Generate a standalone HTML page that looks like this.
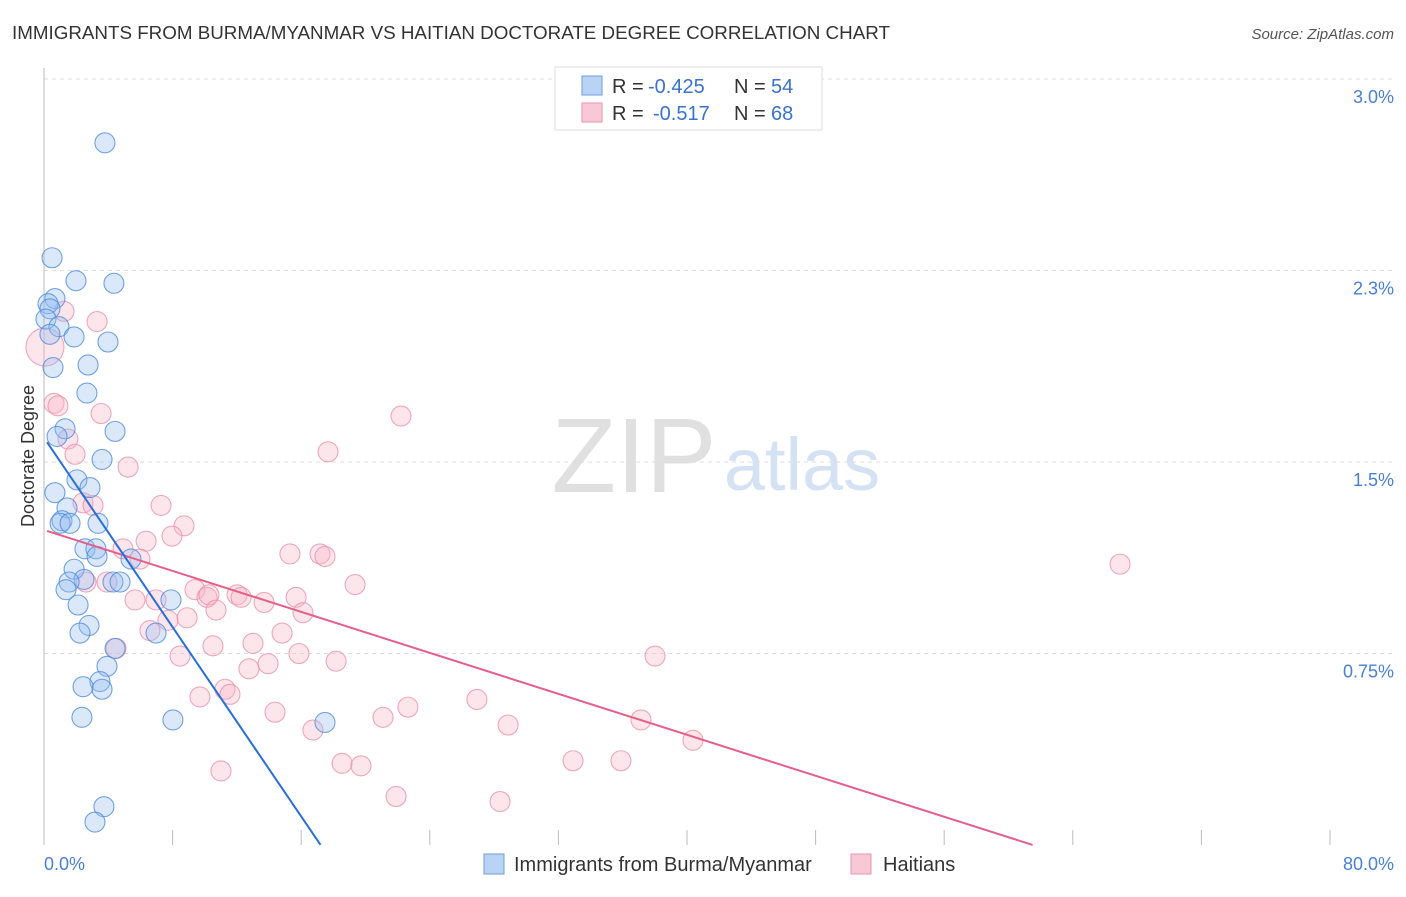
<!DOCTYPE html>
<html><head><meta charset="utf-8"><style>
body{margin:0;background:#fff;font-family:"Liberation Sans",sans-serif}
svg text{font-family:"Liberation Sans",sans-serif}
</style></head><body>
<svg width="1406" height="892" xmlns="http://www.w3.org/2000/svg">
<text x="12" y="39" font-size="18.8" fill="#333">IMMIGRANTS FROM BURMA/MYANMAR VS HAITIAN DOCTORATE DEGREE CORRELATION CHART</text>
<text x="1394" y="39" font-size="15" fill="#555" font-style="italic" text-anchor="end">Source: ZipAtlas.com</text>
<text x="634" y="492" font-size="106" fill="#e0e0e0" font-family="Liberation Serif" text-anchor="middle">ZIP</text>
<text x="802" y="490" font-size="74" fill="#d4e2f4" text-anchor="middle">atlas</text>
<g id="grid"></g>
<g id="axes"></g>
<g id="pts"></g>
<g id="lines"></g>
<text transform="translate(34,456) rotate(-90)" font-size="18" fill="#333" text-anchor="middle">Doctorate Degree</text>
<text x="44" y="870" font-size="18" fill="#4a7fd4">0.0%</text>
<text x="1394" y="870" font-size="18" fill="#4a7fd4" text-anchor="end">80.0%</text>
<g>
<rect x="555" y="67" width="267" height="63" fill="#fff" stroke="#ddd"/>
<rect x="582" y="76" width="20" height="19" fill="#b8d3f4" stroke="#6d9fdf"/>
<text x="612" y="93" font-size="20" fill="#333">R =</text>
<text x="648" y="93" font-size="20" fill="#3a72cc">-0.425</text>
<text x="734" y="93" font-size="20" fill="#333">N =</text>
<text x="771" y="93" font-size="20" fill="#3a72cc">54</text>
<rect x="582" y="103" width="20" height="19" fill="#f9c8d6" stroke="#e893ad"/>
<text x="612" y="120" font-size="20" fill="#333">R =</text>
<text x="653" y="120" font-size="20" fill="#3a72cc">-0.517</text>
<text x="734" y="120" font-size="20" fill="#333">N =</text>
<text x="771" y="120" font-size="20" fill="#3a72cc">68</text>
</g>
<g>
<rect x="484" y="854" width="20" height="20" fill="#b8d3f4" stroke="#6d9fdf"/>
<text x="514" y="871" font-size="20" fill="#333">Immigrants from Burma/Myanmar</text>
<rect x="851" y="854" width="20" height="20" fill="#f9c8d6" stroke="#e893ad"/>
<text x="883" y="871" font-size="20" fill="#333">Haitians</text>
</g>
</svg>
<script>
const yTicks=[0.75,1.5,2.25,3.0];
const yTickLabels=["0.75%","1.5%","2.3%","3.0%"];
const xTicks=[0,8,16,24,32,40,48,56,64,72,80];
const blueX=[3.79,0.50,1.99,4.35,0.68,0.25,0.37,0.12,0.93,1.87,3.98,0.37,0.56,2.74,2.67,1.31,4.42,0.81,3.61,2.05,2.86,0.68,1.43,1.12,1.00,1.62,3.36,2.55,3.23,3.30,5.41,1.87,2.49,1.56,1.37,4.29,4.73,7.90,2.12,2.80,2.24,6.97,4.42,3.92,3.48,2.43,3.61,2.36,8.02,17.48,3.73,3.17];
const blueY=[2.75,2.30,2.21,2.20,2.14,2.12,2.10,2.06,2.03,1.99,1.97,2.00,1.87,1.88,1.77,1.63,1.62,1.60,1.51,1.43,1.40,1.38,1.32,1.27,1.26,1.26,1.26,1.16,1.16,1.13,1.12,1.08,1.04,1.03,1.00,1.03,1.03,0.96,0.94,0.86,0.83,0.83,0.77,0.70,0.64,0.62,0.61,0.50,0.49,0.48,0.15,0.09];
const pinkX=[0.06,0.62,0.87,1.24,3.30,3.55,1.49,1.93,5.23,22.21,17.67,2.43,3.05,7.28,8.71,2.61,4.91,6.35,5.97,7.96,3.92,15.30,17.17,17.48,19.35,5.66,6.97,9.39,10.14,10.26,12.01,12.26,13.69,15.68,16.11,10.70,8.90,7.71,6.59,8.46,13.00,14.81,15.86,18.17,13.94,12.75,4.48,10.51,11.26,9.70,11.57,14.37,16.73,21.09,22.64,26.93,28.87,37.14,40.37,38.01,66.94,11.01,18.54,19.72,21.90,28.37,32.91,35.89];
const pinkY=[1.95,1.73,1.72,2.09,2.05,1.69,1.59,1.53,1.48,1.68,1.54,1.34,1.33,1.33,1.25,1.03,1.16,1.19,1.12,1.21,1.03,1.14,1.14,1.13,1.02,0.96,0.96,1.00,0.97,0.98,0.98,0.97,0.95,0.97,0.91,0.92,0.89,0.88,0.84,0.74,0.79,0.83,0.75,0.72,0.71,0.69,0.77,0.78,0.61,0.58,0.59,0.52,0.45,0.50,0.54,0.57,0.47,0.49,0.41,0.74,1.10,0.29,0.32,0.31,0.19,0.17,0.33,0.33];
const blueTrend=[1.595,-0.0927,0.19,17.2];
const pinkTrend=[1.234,-0.02006,0.19,61.5];
const X0=44,X1=1330,Y0=845,PPU=255.33;
const sx=v=>X0+(v/80)*(X1-X0);
const sy=v=>Y0-v*PPU;
const NS="http://www.w3.org/2000/svg";
function mk(t,a,p){const e=document.createElementNS(NS,t);for(const k in a)e.setAttribute(k,a[k]);p.appendChild(e);return e;}
const grid=document.getElementById('grid'),axes=document.getElementById('axes'),pts=document.getElementById('pts'),lines=document.getElementById('lines');
yTicks.forEach((t,i)=>{
 const l=mk('line',{x1:X0,x2:1394,y1:sy(t),y2:sy(t),stroke:'#ddd','stroke-dasharray':'4,4'},grid);
 
 
 const tx=mk('text',{x:1394,y:sy(t)+24,'font-size':18,fill:'#4a7fd4','text-anchor':'end'},grid);
 tx.textContent=yTickLabels[i];
 
 
});
const ya=mk('line',{x1:X0,x2:X0,y1:68,y2:Y0,stroke:'#bbb'},axes);


xTicks.forEach(t=>{
 const l=mk('line',{x1:sx(t),x2:sx(t),y1:830,y2:Y0,stroke:'#bbb'},axes);
 
 
});
function dots(xs,ys,fill,stroke,name){
 xs.forEach((x,i)=>{
  const c=mk('circle',{cx:sx(x),cy:sy(ys[i]),r:(name==='haitian-point'&&i===0)?19:10,fill:fill,stroke:stroke,'stroke-width':1.1},pts);
  
  
 });
}
dots(pinkX,pinkY,'rgba(248,180,200,0.35)','rgba(232,140,168,0.75)','haitian-point');
dots(blueX,blueY,'rgba(150,190,240,0.35)','rgba(80,140,220,0.8)','burma-point');
function trend(tr,col,name){
 const [a,b,x1,x2]=tr;
 const l=mk('line',{x1:sx(x1),y1:sy(a+b*x1),x2:sx(x2),y2:sy(a+b*x2),stroke:col,'stroke-width':2},lines);
 
 
}
trend(pinkTrend,'#e4608a','haitian-trend-line');
trend(blueTrend,'#2a6fd6','burma-trend-line');
</script>
</body></html>
